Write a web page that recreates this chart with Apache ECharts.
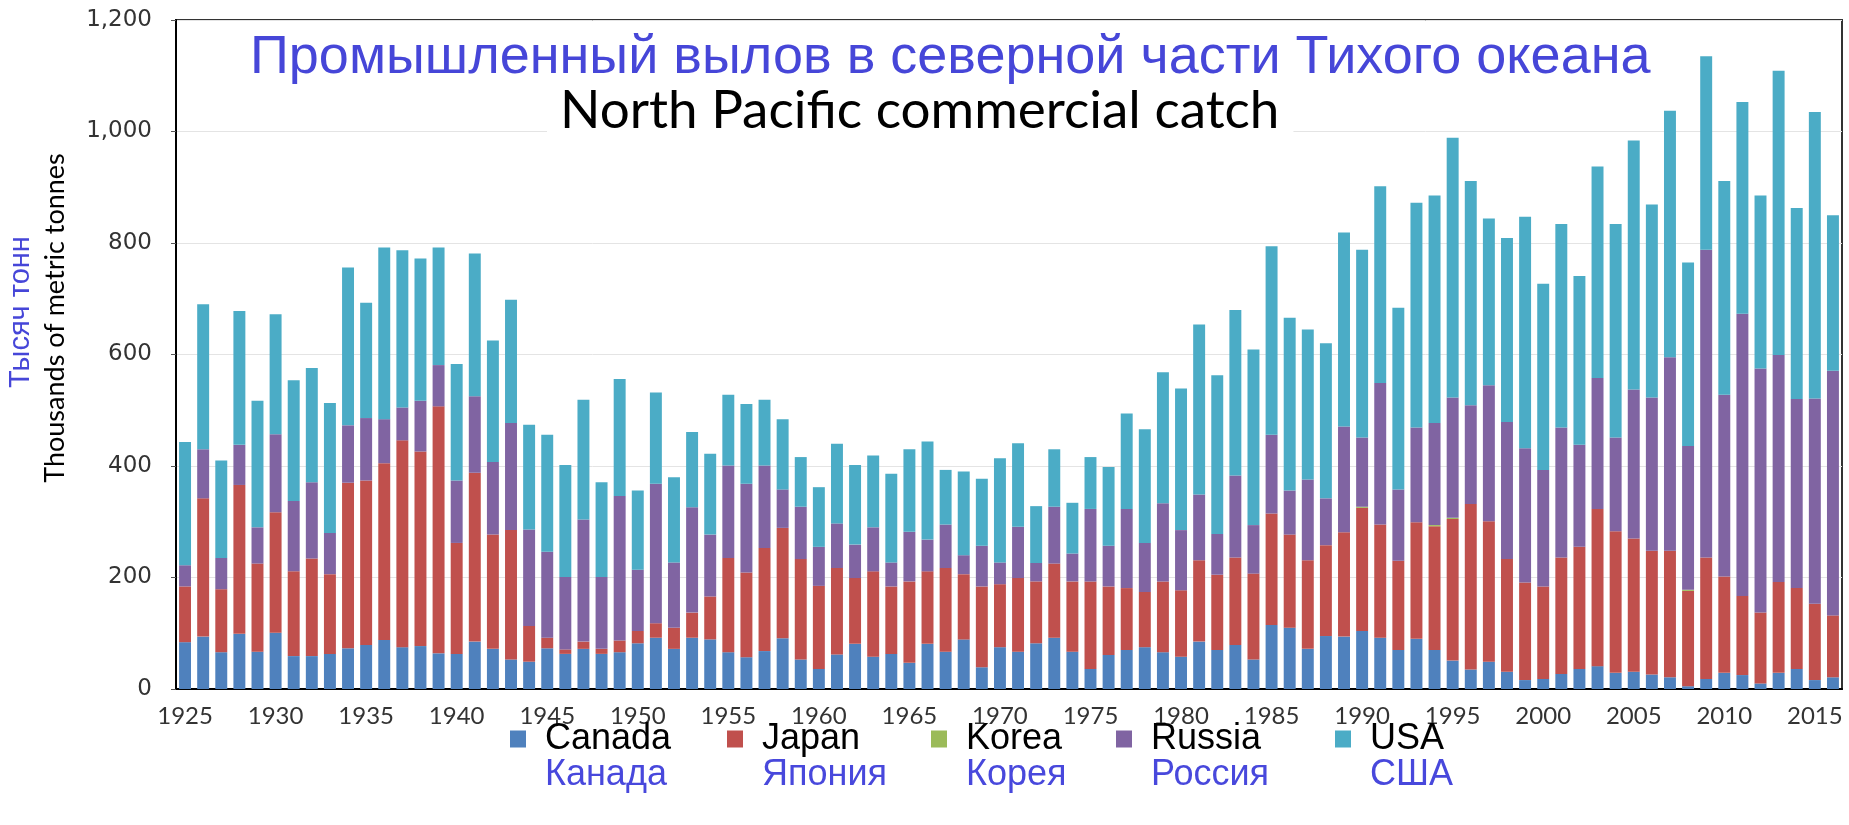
<!DOCTYPE html>
<html>
<head>
<meta charset="utf-8">
<script src="https://cdn.jsdelivr.net/npm/echarts@6/dist/echarts.min.js"></script>
<style>
	html, body { margin: 0; padding: 0; background: #fff; }
	.chart { width: 1849px; height: 825px; }
</style>
</head>
<body>
<div id="catchChart" class="chart"></div>
<script>
// years 1925..2016
var firstYear = 1925, lastYear = 2016;
var years = [];
for (var y = firstYear; y <= lastYear; y++) years.push(String(y));

// thousands of metric tonnes
var canada = [84, 94, 66, 99, 67, 101, 59, 59, 63, 73, 79, 88, 75, 77, 64, 63, 85, 72, 53, 49,
	73, 63, 72, 63, 66, 82, 92, 72, 92, 89, 66, 57, 68, 91, 53, 36, 62, 81, 58, 63,
	47, 81, 67, 89, 39, 75, 67, 82, 92, 67, 36, 61, 70, 75, 66, 58, 85, 70, 79, 53,
	115, 110, 72, 95, 94, 104, 92, 70, 90, 70, 51, 35, 49, 31, 16, 18, 27, 36, 41, 29,
	31, 26, 21, 5, 18, 29, 25, 10, 29, 36, 16, 21];
var japan = [100, 248, 113, 267, 158, 216, 152, 175, 143, 297, 295, 317, 371, 349, 443, 199, 303, 205, 232, 64,
	19, 8, 13, 9, 21, 22, 26, 38, 45, 77, 169, 152, 185, 198, 180, 149, 155, 118, 153, 121,
	146, 130, 150, 117, 145, 113, 132, 111, 133, 126, 157, 123, 111, 99, 127, 119, 146, 135, 157, 154,
	200, 167, 159, 163, 187, 221, 203, 160, 209, 222, 254, 297, 252, 202, 175, 166, 209, 219, 282, 254,
	239, 222, 227, 171, 218, 173, 142, 127, 163, 145, 137, 111];
var korea = [0, 0, 0, 0, 0, 0, 0, 0, 0, 0, 0, 0, 0, 0, 0, 0, 0, 0, 0, 0,
	0, 0, 0, 0, 0, 0, 0, 0, 0, 0, 0, 0, 0, 0, 0, 0, 0, 0, 0, 0,
	0, 0, 0, 0, 0, 0, 0, 0, 0, 0, 0, 0, 0, 0, 0, 0, 0, 0, 0, 0,
	0, 0, 0, 0, 0, 2, 0, 0, 0, 2, 2, 0, 0, 0, 0, 0, 0, 0, 0, 0,
	0, 0, 0, 2, 0, 0, 0, 0, 0, 0, 0, 0];
var russia = [38, 88, 56, 72, 65, 140, 126, 137, 74, 103, 112, 79, 59, 91, 74, 112, 137, 130, 192, 173,
	154, 130, 219, 129, 259, 110, 250, 117, 189, 111, 166, 159, 148, 69, 94, 70, 80, 60, 79, 43,
	89, 57, 78, 34, 73, 39, 92, 33, 102, 50, 130, 73, 142, 88, 140, 108, 118, 73, 147, 87,
	141, 79, 145, 84, 190, 124, 254, 128, 170, 183, 216, 177, 244, 246, 241, 209, 233, 183, 235, 168,
	267, 275, 347, 258, 552, 326, 506, 438, 407, 339, 368, 439];
var usa = [221, 260, 175, 240, 227, 215, 217, 205, 233, 283, 207, 308, 282, 255, 211, 209, 256, 218, 221, 188,
	210, 201, 215, 170, 210, 142, 164, 153, 135, 145, 127, 143, 118, 126, 89, 107, 143, 143, 129, 159,
	148, 176, 98, 150, 120, 187, 150, 102, 103, 91, 93, 141, 171, 204, 235, 254, 305, 285, 297, 315,
	338, 310, 269, 278, 348, 337, 353, 326, 403, 408, 466, 402, 299, 330, 415, 334, 365, 303, 379, 383,
	447, 346, 442, 329, 347, 383, 380, 310, 510, 343, 514, 279];

var namesEn = ['Canada', 'Japan', 'Korea', 'Russia', 'USA'];
var namesRu = ['Канада', 'Япония', 'Корея', 'Россия', 'США'];
var colors = ['#4f81bd', '#c0504d', '#9bbb59', '#8064a2', '#4bacc6'];
var seriesData = [canada, japan, korea, russia, usa];

// where each legend entry starts (px from the left)
var legendLeft = [510, 727, 931, 1116, 1335];

var myChart = echarts.init(document.getElementById('catchChart'));

var series = [];
var legends = [];
for (var i = 0; i < namesEn.length; i++) {
	series.push({
		name: namesEn[i],
		type: 'bar',
		stack: 'total',
		barCategoryGap: '34%',
		itemStyle: { color: colors[i] },
		data: seriesData[i]
	});
	// english name with its square
	legends.push({
		data: [namesEn[i]],
		left: legendLeft[i],
		top: 721,
		padding: 0,
		icon: 'rect',
		itemWidth: 16,
		itemHeight: 17,
		textStyle: { fontFamily: 'Liberation Sans', fontSize: 36, color: '#000', padding: [0, 0, 0, 14] }
	});
	// russian name underneath, no square
	legends.push({
		data: [namesEn[i]],
		left: legendLeft[i],
		top: 757,
		padding: 0,
		icon: 'rect',
		itemWidth: 16,
		itemHeight: 17,
		itemStyle: { opacity: 0 },
		formatter: (function (n) { return function () { return namesRu[n]; }; })(i),
		textStyle: { fontFamily: 'Liberation Sans', fontSize: 36, color: '#4848dc', padding: [0, 0, 0, 14] }
	});
}

myChart.setOption({
	animation: false,
	color: colors,
	title: [{
		text: 'Промышленный вылов в северной части Тихого океана',
		left: 250,
		top: 31,
		padding: 0,
		textStyle: { fontFamily: 'Liberation Sans', fontSize: 54, fontWeight: 'normal', color: '#4646d8' }
	}, {
		text: 'North Pacific commercial catch',
		left: 547,
		top: 80,
		padding: [4, 14, 4, 13],
		backgroundColor: '#fff',
		textStyle: { fontFamily: 'Lato', fontSize: 53, fontWeight: 'normal', color: '#000' }
	}],
	grid: {
		left: 176,
		right: 7,
		top: 20,
		bottom: 136,
		show: true,
		borderColor: '#333',
		borderWidth: 2,
		backgroundColor: '#fff'
	},
	legend: legends,
	xAxis: {
		type: 'category',
		data: years,
		axisLine: { lineStyle: { color: '#000', width: 2 } },
		axisTick: { interval: 0, length: 6, lineStyle: { color: '#555' } },
		axisLabel: {
			interval: 4,
			margin: 15,
			fontFamily: 'Lato',
			fontSize: 24,
			color: '#333'
		}
	},
	yAxis: {
		type: 'value',
		min: 0,
		max: 1200,
		interval: 200,
		axisLine: { show: true, lineStyle: { color: '#000', width: 2 } },
		axisTick: { show: true, length: 5, lineStyle: { color: '#555' } },
		splitLine: { lineStyle: { color: '#e4e4e4' } },
		axisLabel: {
			margin: 24,
			fontFamily: 'DejaVu Sans',
			fontSize: 23,
			color: '#333',
			formatter: function (v) { return v.toLocaleString('en-US'); }
		}
	},
	graphic: [{
		type: 'text',
		x: 55,
		y: 318,
		rotation: Math.PI / 2,
		style: {
			text: 'Thousands of metric tonnes',
			font: '27px Lato',
			fill: '#000',
			align: 'center',
			verticalAlign: 'middle'
		}
	}, {
		type: 'text',
		x: 21,
		y: 312,
		rotation: Math.PI / 2,
		style: {
			text: 'Тысяч тонн',
			font: '29px "Liberation Sans"',
			fill: '#4646d8',
			align: 'center',
			verticalAlign: 'middle'
		}
	}],
	series: series
});
</script>
</body>
</html>
